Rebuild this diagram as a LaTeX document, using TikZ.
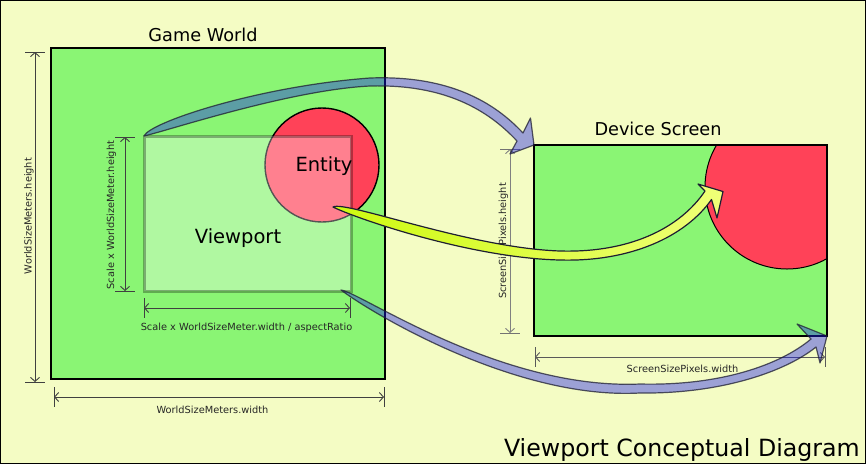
\documentclass[tikz,border=0pt]{standalone}
\usepackage{fontspec}
\setmainfont{DejaVu Sans}
\usetikzlibrary{arrows.meta,calc}

\definecolor{paperyellow}{RGB}{244,252,196}
\definecolor{fieldgreen}{RGB}{138,245,116}
\definecolor{entityred}{RGB}{255,66,88}
\definecolor{arrowblue}{RGB}{25,25,240}
\definecolor{arrowline}{RGB}{30,30,50}
\definecolor{arrowlime}{RGB}{205,250,15}
\definecolor{arrowpale}{RGB}{240,255,120}

\tikzstyle{world green}=[fill=fieldgreen, draw=black, line width=1.6pt, inner sep=0, outer sep=0]
\tikzstyle{entity red}=[circle, fill=entityred, draw=black, line width=1.4pt, inner sep=0, outer sep=0]
\tikzstyle{viewport glass}=[fill=white, fill opacity=0.33, draw=black, draw opacity=0.3, line width=3pt, inner sep=0, outer sep=0]
\tikzstyle{dim line}=[draw=black!75, line width=0.9pt, arrows={Straight Barb[length=4pt,width=9pt]-Straight Barb[length=4pt,width=9pt]}]
\tikzstyle{dim bar}=[draw=black!75, line width=0.9pt]
\tikzstyle{small label}=[font=\fontsize{9.8}{11}\selectfont, text=black!85, inner sep=0]
\tikzstyle{title label}=[font=\fontsize{17.7}{20}\selectfont, inner sep=0]
\tikzstyle{big label}=[font=\fontsize{19.5}{22}\selectfont, inner sep=0]
\tikzstyle{blue arrow}=[fill=arrowblue, fill opacity=0.4, draw=arrowline, draw opacity=0.75, line width=1.2pt, line join=round]
\tikzstyle{lime arrow}=[left color=arrowlime, middle color=arrowlime, right color=arrowpale, draw=arrowline, line width=1.2pt, line join=round]

\begin{document}
\begin{tikzpicture}[x=1pt, y=-1pt]
	\useasboundingbox (0,0) rectangle (866,464);
	\fill[paperyellow] (0,0) rectangle (866,464);
	\draw[line width=1pt] (0.5,0.5) rectangle (865.5,463.5);

	% Game world with entity and viewport
	\node[world green, minimum width=334pt, minimum height=331pt, anchor=north west] (world) at (51,48) {};
	\node[entity red, minimum size=114pt] (entity) at (322,165) {};
	\node[viewport glass, minimum width=207pt, minimum height=155pt, anchor=north west] (viewport) at (144,136) {};
	\node[big label, anchor=base] (entitylabel) at (324,171.5) {Entity};
	\node[big label, anchor=base] (viewportlabel) at (238,243) {Viewport};
	\node[title label, anchor=base] (worldtitle) at (203,41.5) {Game World};

	% Device screen
	\node[world green, draw=none, minimum width=293pt, minimum height=191pt, anchor=north west] (screen) at (534,145) {};
	\coordinate (screenentity) at (787,187);
	\begin{scope}
		\clip (screen.south west) rectangle (screen.north east);
		\fill[entityred, draw=black, line width=1pt] (screenentity) circle (82pt);
	\end{scope}
	\draw[line width=1.6pt] (screen.south west) rectangle (screen.north east);
	\node[title label, anchor=base] (screentitle) at (658,135) {Device Screen};

	% Dimensions
	\draw[dim line] (35,52) -- (35,382);
	\draw[dim bar] (25,52) -- (45,52) (25,382) -- (45,382);
	\node[small label, rotate=90, anchor=base] (worldh) at (31.5,216) {WorldSizeMeters.height};
	\draw[dim line] (54,397) -- (384,397);
	\draw[dim bar] (54,387) -- (54,407) (384,387) -- (384,407);
	\node[small label, anchor=base] (worldw) at (212.5,413) {WorldSizeMeters.width};

	\draw[dim line] (125,137) -- (125,291);
	\draw[dim bar] (115,137) -- (135,137) (115,291) -- (135,291);
	\node[small label, rotate=90, anchor=base] (scaleh) at (114,215) {Scale x WorldSizeMeter.height};
	\draw[dim line] (144,308) -- (350,308);
	\draw[dim bar] (144,298) -- (144,318) (350,298) -- (350,318);
	\node[small label, anchor=base] (scalew) at (246.5,330) {Scale x WorldSizeMeter.width / aspectRatio};

	\draw[dim line, draw=black!50] (510,149) -- (510,333);
	\draw[dim bar, draw=black!55] (500,149) -- (520,149) (500,333) -- (520,333);
	\node[small label, rotate=90, anchor=base] (screenh) at (506,241) {ScreenSizePixels.height};
	\draw[dim line, draw=black!65] (535,357) -- (825,357);
	\draw[dim bar, draw=black!65] (535,347) -- (535,367) (825,347) -- (825,367);
	\node[small label, anchor=base] (screenw) at (682.5,372) {ScreenSizePixels.width};

	% Mapping arrows
	\coordinate (entitygrip) at ($(entity.center)+(11,42)$);
	\coordinate (entityhit) at ($(screenentity)+(-64,4.5)$);
	\coordinate (lowstart) at ($(viewport.south east)+(-10,-1)$);
	\draw[blue arrow] (viewport.north west) .. controls (150,122) and (260,86) .. (370,78)
		.. controls (450,75) and (495,103) .. (523,133) -- (530.5,118) -- (screen.north west) -- (510,154) -- (517,141)
		.. controls (488,110) and (445,84) .. (370,86) .. controls (290,90) and (170,130) .. (viewport.north west) -- cycle;
	\path[lime arrow] (entitygrip) .. controls (345,200) and (470,248) .. (560,251)
		.. controls (630,253) and (680,228) .. (705,191) -- (698,184) -- (entityhit) -- (717,218) -- (711.5,199.5)
		.. controls (685,237) and (630,262) .. (560,260) .. controls (470,258) and (355,218) .. (entitygrip) -- cycle;
	\draw[blue arrow] (lowstart) .. controls (360,292) and (500,390) .. (640,384)
		.. controls (720,386) and (780,365) .. (811,339) -- (797,324) -- (screen.south east) -- (820,363) -- (816,347)
		.. controls (785,372) and (720,394) .. (640,393) .. controls (515,400) and (370,312) .. (lowstart) -- cycle;

	\node[font=\fontsize{23.7}{28}\selectfont, anchor=base east, inner sep=0] (diagramtitle) at (860,456) {Viewport Conceptual Diagram};
\end{tikzpicture}
\end{document}
